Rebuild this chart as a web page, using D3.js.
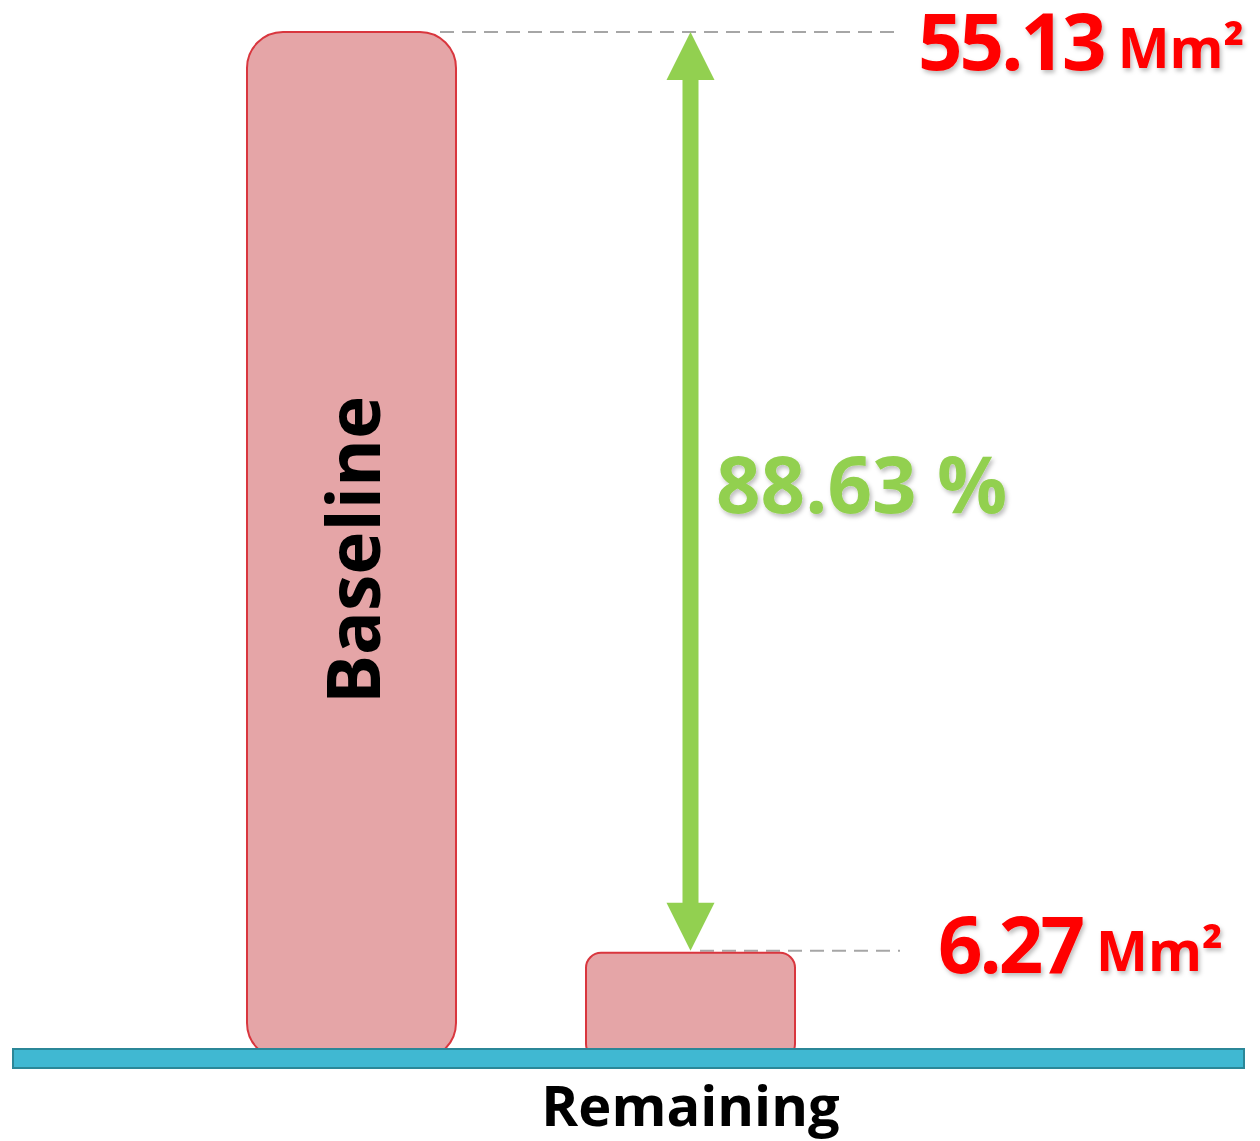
<!DOCTYPE html>
<html>
<head>
<meta charset="utf-8">
<script src="https://cdn.jsdelivr.net/npm/d3@7"></script>
<style>
  body { margin: 0; background: #fff; }
  svg text { font-family: "Open Sans", sans-serif; font-weight: bold; }
</style>
</head>
<body>
<svg id="chart"></svg>
<script>
var categories = ["Baseline", "Remaining"];
var values = [55.13, 6.27];
var unit = "Mm²";

var width = 1260, height = 1141;
var svg = d3.select("#chart").attr("width", width).attr("height", height);

var defs = svg.append("defs");
var f = defs.append("filter").attr("id", "shadow").attr("x", "-10%").attr("y", "-10%").attr("width", "130%").attr("height", "140%");
f.append("feDropShadow").attr("dx", 2).attr("dy", 3).attr("stdDeviation", 2).attr("flood-color", "#000").attr("flood-opacity", 0.25);

var x = d3.scaleBand().domain(categories).range([247, 795]).paddingInner(0.3835).paddingOuter(0);
var y = d3.scaleLinear().domain([0, values[0]]).range([1071, 32]);

// dashed guide lines
var guides = [[440, 895], [700, 900]];
svg.selectAll(".guide")
  .data(values)
  .enter().append("line")
  .attr("x1", function(d, i) { return guides[i][0]; })
  .attr("x2", function(d, i) { return guides[i][1]; })
  .attr("y1", function(d, i) { return i == 0 ? y(d) : y(d) - 2; })
  .attr("y2", function(d, i) { return i == 0 ? y(d) : y(d) - 2; })
  .attr("stroke", "#a6a6a6").attr("stroke-width", 2).attr("stroke-dasharray", "14,8");

// bars
var radius = [36, 15];
svg.selectAll(".bar")
  .data(values)
  .enter().append("rect")
  .attr("x", function(d, i) { return x(categories[i]); })
  .attr("width", x.bandwidth())
  .attr("y", function(d) { return y(d); })
  .attr("height", function(d) { return y(0) - 12 - y(d); })
  .attr("rx", function(d, i) { return radius[i]; })
  .attr("fill", "#e5a5a7").attr("stroke", "#d9363e").attr("stroke-width", 2);

// axis band
svg.append("rect")
  .attr("x", 13).attr("y", 1049).attr("width", 1231).attr("height", 19)
  .attr("fill", "#40b8d2").attr("stroke", "#2b8798").attr("stroke-width", 2);

// double arrow
var ax = x(categories[1]) + x.bandwidth() / 2;
var arrowTop = y(values[0]), arrowBot = y(values[1]) - 2;
var head = 48, hw = 24;
svg.append("line")
  .attr("x1", ax).attr("x2", ax).attr("y1", arrowTop + head - 2).attr("y2", arrowBot - head + 2)
  .attr("stroke", "#92d050").attr("stroke-width", 16);
svg.append("path")
  .attr("d", "M" + ax + "," + arrowTop + "L" + (ax + hw) + "," + (arrowTop + head) + "L" + (ax - hw) + "," + (arrowTop + head) + "Z")
  .attr("fill", "#92d050");
svg.append("path")
  .attr("d", "M" + ax + "," + arrowBot + "L" + (ax + hw) + "," + (arrowBot - head) + "L" + (ax - hw) + "," + (arrowBot - head) + "Z")
  .attr("fill", "#92d050");

// percent label
var pct = (1 - values[1] / values[0]) * 100;
svg.append("text")
  .attr("x", 716).attr("y", 513)
  .attr("font-size", 78).attr("fill", "#92d050").attr("filter", "url(#shadow)")
  .text(pct.toFixed(2) + " %");

// value labels
var labelPos = [[918, 70], [938, 973]];
var labels = svg.selectAll(".val")
  .data(values)
  .enter().append("text")
  .attr("x", function(d, i) { return labelPos[i][0]; })
  .attr("y", function(d, i) { return labelPos[i][1]; })
  .attr("fill", "#ff0000").attr("filter", "url(#shadow)");
labels.append("tspan").attr("font-size", 78).attr("letter-spacing", -3).text(function(d) { return d.toFixed(2); });
labels.append("tspan").attr("font-size", 55).attr("dx", 14).attr("dy", -2).text(unit);

// category labels
svg.append("text")
  .attr("transform", "translate(" + (x(categories[0]) + x.bandwidth() / 2 + 29) + "," + 550 + ") rotate(-90)")
  .attr("text-anchor", "middle").attr("font-size", 73).attr("fill", "#000")
  .text(categories[0]);
svg.append("text")
  .attr("x", x(categories[1]) + x.bandwidth() / 2).attr("y", 1126)
  .attr("text-anchor", "middle").attr("font-size", 56).attr("fill", "#000")
  .text(categories[1]);
</script>
</body>
</html>
